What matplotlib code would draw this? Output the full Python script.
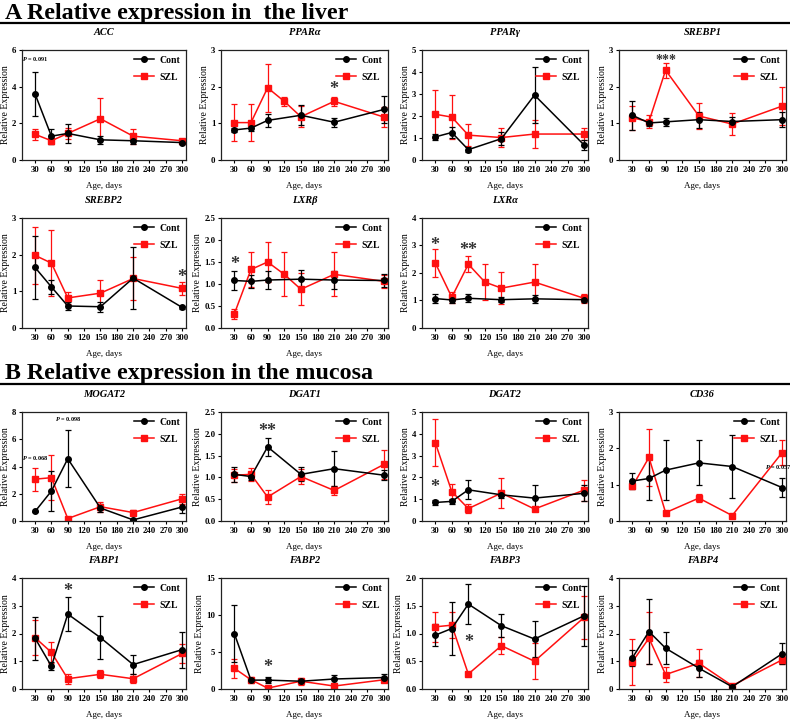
import numpy as np
import matplotlib.pyplot as plt
from matplotlib.lines import Line2D

plt.rcParams['font.family'] = ['Liberation Serif', 'DejaVu Serif']
plt.rcParams['font.weight'] = 'bold'
plt.rcParams['mathtext.fontset'] = 'custom'
plt.rcParams['mathtext.it'] = 'Liberation Serif:italic:bold'

# Ages (days)
days = [30, 60, 90, 150, 210, 300]
days_120 = [30, 60, 90, 120, 150, 210, 300]
age_ticks = [30, 60, 90, 120, 150, 180, 210, 240, 270, 300]

# ---- Liver ----
acc_cont = [3.6, 1.3, 1.45, 1.1, 1.05, 0.95]
acc_cont_err = [1.2, 0.4, 0.5, 0.2, 0.15, 0.08]
acc_szl = [1.4, 1.05, 1.45, 2.25, 1.3, 1.05]
acc_szl_err = [0.3, 0.15, 0.3, 1.15, 0.4, 0.05]

ppara_cont = [0.82, 0.87, 1.08, 1.22, 1.03, 1.38]
ppara_cont_err = [0.05, 0.07, 0.17, 0.27, 0.12, 0.37]
ppara_szl = [1.02, 1.02, 1.97, 1.6, 1.18, 1.6, 1.17]
ppara_szl_err = [0.5, 0.5, 0.66, 0.13, 0.28, 0.13, 0.28]

pparg_cont = [1.05, 1.25, 0.47, 0.97, 2.95, 0.68]
pparg_cont_err = [0.15, 0.27, 0.1, 0.3, 1.27, 0.22]
pparg_szl = [2.08, 1.95, 1.13, 1.02, 1.18, 1.18]
pparg_szl_err = [1.1, 1.0, 0.5, 0.42, 0.65, 0.27]

srebp1_cont = [1.22, 1.01, 1.04, 1.1, 1.05, 1.1]
srebp1_cont_err = [0.4, 0.08, 0.1, 0.22, 0.12, 0.2]
srebp1_szl = [1.15, 1.05, 2.45, 1.2, 0.98, 1.47]
srebp1_szl_err = [0.33, 0.18, 0.2, 0.35, 0.3, 0.52]

srebp2_cont = [1.65, 1.12, 0.6, 0.58, 1.36, 0.56]
srebp2_cont_err = [0.85, 0.2, 0.1, 0.14, 0.85, 0.03]
srebp2_szl = [1.98, 1.77, 0.82, 0.95, 1.35, 1.08]
srebp2_szl_err = [0.78, 0.9, 0.17, 0.37, 0.58, 0.17]

lxrb_cont = [1.08, 1.06, 1.09, 1.11, 1.09, 1.08]
lxrb_cont_err = [0.22, 0.15, 0.2, 0.2, 0.2, 0.15]
lxrb_szl = [0.32, 1.33, 1.5, 1.22, 0.88, 1.22, 1.06]
lxrb_szl_err = [0.12, 0.4, 0.45, 0.5, 0.36, 0.5, 0.15]

lxra_cont = [1.07, 1.02, 1.08, 1.03, 1.06, 1.03]
lxra_cont_err = [0.17, 0.1, 0.15, 0.1, 0.15, 0.1]
lxra_szl = [2.37, 1.12, 2.32, 1.67, 1.45, 1.67, 1.08]
lxra_szl_err = [0.5, 0.2, 0.3, 0.65, 0.57, 0.65, 0.17]

# ---- Mucosa ----
mogat2_cont = [0.7, 2.2, 4.57, 0.95, 0.08, 1.03]
mogat2_cont_err = [0.05, 1.45, 2.1, 0.3, 0.05, 0.45]
mogat2_szl = [3.07, 3.18, 0.18, 1.05, 0.62, 1.63]
mogat2_szl_err = [0.85, 1.67, 0.1, 0.38, 0.2, 0.38]

dgat1_cont = [1.07, 1.02, 1.7, 1.07, 1.2, 1.05]
dgat1_cont_err = [0.17, 0.08, 0.2, 0.16, 0.4, 0.12]
dgat1_szl = [1.05, 1.07, 0.55, 1.02, 0.7, 1.3]
dgat1_szl_err = [0.15, 0.15, 0.17, 0.18, 0.1, 0.33]

dgat2_cont = [0.85, 0.9, 1.43, 1.2, 1.05, 1.27]
dgat2_cont_err = [0.1, 0.12, 0.43, 0.15, 0.6, 0.37]
dgat2_szl = [3.6, 1.35, 0.57, 1.28, 0.55, 1.42]
dgat2_szl_err = [1.07, 0.37, 0.22, 0.67, 0.1, 0.48]

cd36_cont = [1.1, 1.17, 1.4, 1.6, 1.5, 0.92]
cd36_cont_err = [0.22, 0.6, 0.82, 0.62, 0.86, 0.27]
cd36_szl = [0.95, 1.75, 0.23, 0.63, 0.15, 1.88]
cd36_szl_err = [0.08, 0.78, 0.03, 0.12, 0.03, 0.35]

fabp1_cont = [1.83, 0.82, 2.7, 1.85, 0.88, 1.42]
fabp1_cont_err = [0.78, 0.15, 0.62, 0.77, 0.35, 0.65]
fabp1_szl = [1.85, 1.32, 0.37, 0.53, 0.37, 1.28]
fabp1_szl_err = [0.62, 0.38, 0.18, 0.15, 0.17, 0.35]

fabp2_cont = [7.5, 1.2, 1.2, 1.05, 1.35, 1.55]
fabp2_cont_err = [3.8, 0.3, 0.4, 0.3, 0.5, 0.45]
fabp2_szl = [2.8, 1.25, 0.12, 1.05, 0.4, 1.25]
fabp2_szl_err = [1.3, 0.4, 0.1, 0.5, 0.15, 0.3]

fabp3_cont = [0.97, 1.09, 1.53, 1.14, 0.9, 1.32]
fabp3_cont_err = [0.2, 0.48, 0.36, 0.21, 0.33, 0.54]
fabp3_szl = [1.12, 1.15, 0.27, 0.78, 0.5, 1.29]
fabp3_szl_err = [0.27, 0.23, 0.02, 0.15, 0.32, 0.39]

fabp4_cont = [1.12, 2.07, 1.47, 0.75, 0.08, 1.27]
fabp4_cont_err = [0.3, 1.17, 0.57, 0.3, 0.04, 0.38]
fabp4_szl = [0.98, 1.83, 0.52, 0.93, 0.12, 1.05]
fabp4_szl_err = [0.82, 0.93, 0.28, 0.5, 0.04, 0.15]

# title, y max, y step, decimals, cont x, cont, cont err, szl x, szl, szl err, notes
panels = [
    ('ACC', 6, 2, 0, days, acc_cont, acc_cont_err, days, acc_szl, acc_szl_err,
     [('p', 'P = 0.091', 30, 5.3)]),
    ('PPARα', 3, 1, 0, days, ppara_cont, ppara_cont_err, days_120, ppara_szl, ppara_szl_err,
     [('s', '*', 210, 2.05)]),
    ('PPARγ', 5, 1, 0, days, pparg_cont, pparg_cont_err, days, pparg_szl, pparg_szl_err, []),
    ('SREBP1', 3, 1, 0, days, srebp1_cont, srebp1_cont_err, days, srebp1_szl, srebp1_szl_err,
     [('s3', '***', 90, 2.8)]),
    ('SREBP2', 3, 1, 0, days, srebp2_cont, srebp2_cont_err, days, srebp2_szl, srebp2_szl_err,
     [('s', '*', 300, 1.5)]),
    ('LXRβ', 2.5, 0.5, 1, days, lxrb_cont, lxrb_cont_err, days_120, lxrb_szl, lxrb_szl_err,
     [('s', '*', 30, 1.55)]),
    ('LXRα', 4, 1, 0, days, lxra_cont, lxra_cont_err, days_120, lxra_szl, lxra_szl_err,
     [('s', '*', 30, 3.17), ('s', '**', 90, 2.99)]),
    None,
    ('MOGAT2', 8, 2, 0, days, mogat2_cont, mogat2_cont_err, days, mogat2_szl, mogat2_szl_err,
     [('p', 'P = 0.068', 30, 4.35), ('p', 'P = 0.098', 90, 7.2)]),
    ('DGAT1', 2.5, 0.5, 1, days, dgat1_cont, dgat1_cont_err, days, dgat1_szl, dgat1_szl_err,
     [('s', '**', 90, 2.16)]),
    ('DGAT2', 5, 1, 0, days, dgat2_cont, dgat2_cont_err, days, dgat2_szl, dgat2_szl_err,
     [('s', '*', 30, 1.74)]),
    ('CD36', 3, 1, 0, days, cd36_cont, cd36_cont_err, days, cd36_szl, cd36_szl_err,
     [('p', 'P = 0.057', 292, 1.38)]),
    ('FABP1', 4, 1, 0, days, fabp1_cont, fabp1_cont_err, days, fabp1_szl, fabp1_szl_err,
     [('s', '*', 90, 3.69)]),
    ('FABP2', 15, 5, 0, days, fabp2_cont, fabp2_cont_err, days, fabp2_szl, fabp2_szl_err,
     [('s', '*', 90, 3.5)]),
    ('FABP3', 2.0, 0.5, 1, days, fabp3_cont, fabp3_cont_err, days, fabp3_szl, fabp3_szl_err,
     [('s', '*', 90, 0.92)]),
    ('FABP4', 4, 1, 0, days, fabp4_cont, fabp4_cont_err, days, fabp4_szl, fabp4_szl_err, []),
]

W, H = 790, 719
fig = plt.figure(figsize=(W / 100, H / 100), dpi=100)

col_lr = [(22, 186), (221, 388), (422, 588), (619, 786)]
row_tb = [(50, 160), (218, 328), (412, 521), (578, 689)]

red = '#ff1010'
for i, p in enumerate(panels):
    if p is None:
        continue
    title, ymax, ystep, dec, cx, cy, ce, sx, sy, se, notes = p
    l, r = col_lr[i % 4]
    t, b = row_tb[i // 4]
    ax = fig.add_axes([l / W, 1 - b / H, (r - l) / W, (b - t) / H])

    ax.errorbar(sx, sy, yerr=se, color=red, marker='s', ms=4, lw=1.1,
                elinewidth=0.9, capsize=2.2, capthick=0.9)
    ax.errorbar(cx, cy, yerr=ce, color='black', marker='o', ms=4, lw=1.1,
                elinewidth=0.9, capsize=2.2, capthick=0.9)

    ax.set_xlim(6, 307)
    ax.set_ylim(0, ymax)
    ax.set_xticks(age_ticks)
    yt = np.arange(0, ymax + ystep / 2, ystep)
    ax.set_yticks(yt)
    ax.set_yticklabels([f'{v:.{dec}f}' for v in yt])
    ax.tick_params(labelsize=6.3, length=2.5, width=0.8, pad=1.5)
    for s in ax.spines.values():
        s.set_linewidth(0.9)
        s.set_color('#222222')

    ax.set_title(title, fontsize=7.5, fontweight='bold', style='italic', pad=11)
    ax.set_ylabel('Relative Expression', fontsize=7.0, labelpad=1.5)
    ax.set_xlabel('Age, days', fontsize=6.5, labelpad=6)

    for kind, txt, x, y in notes:
        if kind == 'p':
            ax.text(x, y, '$P$' + txt[1:], ha='center', va='bottom', fontsize=4.5)
        else:
            fs = 10 if kind == 's3' else 13
            ax.annotate(txt, (x, y), xytext=(0, -0.5 * fs), textcoords='offset points',
                        ha='center', va='baseline', fontsize=fs, color='#333333')

    handles = [Line2D([], [], color='black', marker='o', ms=4, lw=1.1),
               Line2D([], [], color=red, marker='s', ms=4, lw=1.1)]
    ax.legend(handles, ['Cont', 'SZL'], loc='upper right', frameon=False,
              fontsize=7, handlelength=2.0, handletextpad=0.6, labelspacing=0.8,
              borderaxespad=0.2)

# Section headers
fig.text(5 / W, 1 - 13 / H, 'A Relative expression in  the liver', fontsize=17.3,
         fontweight='bold', va='center', ha='left')
fig.text(5 / W, 1 - 373 / H, 'B Relative expression in the mucosa', fontsize=17.3,
         fontweight='bold', va='center', ha='left')
for yy in (23, 384):
    fig.add_artist(Line2D([0, 1], [1 - yy / H, 1 - yy / H], color='black', lw=1.6,
                          transform=fig.transFigure))

fig.savefig('out.png', dpi=100)
